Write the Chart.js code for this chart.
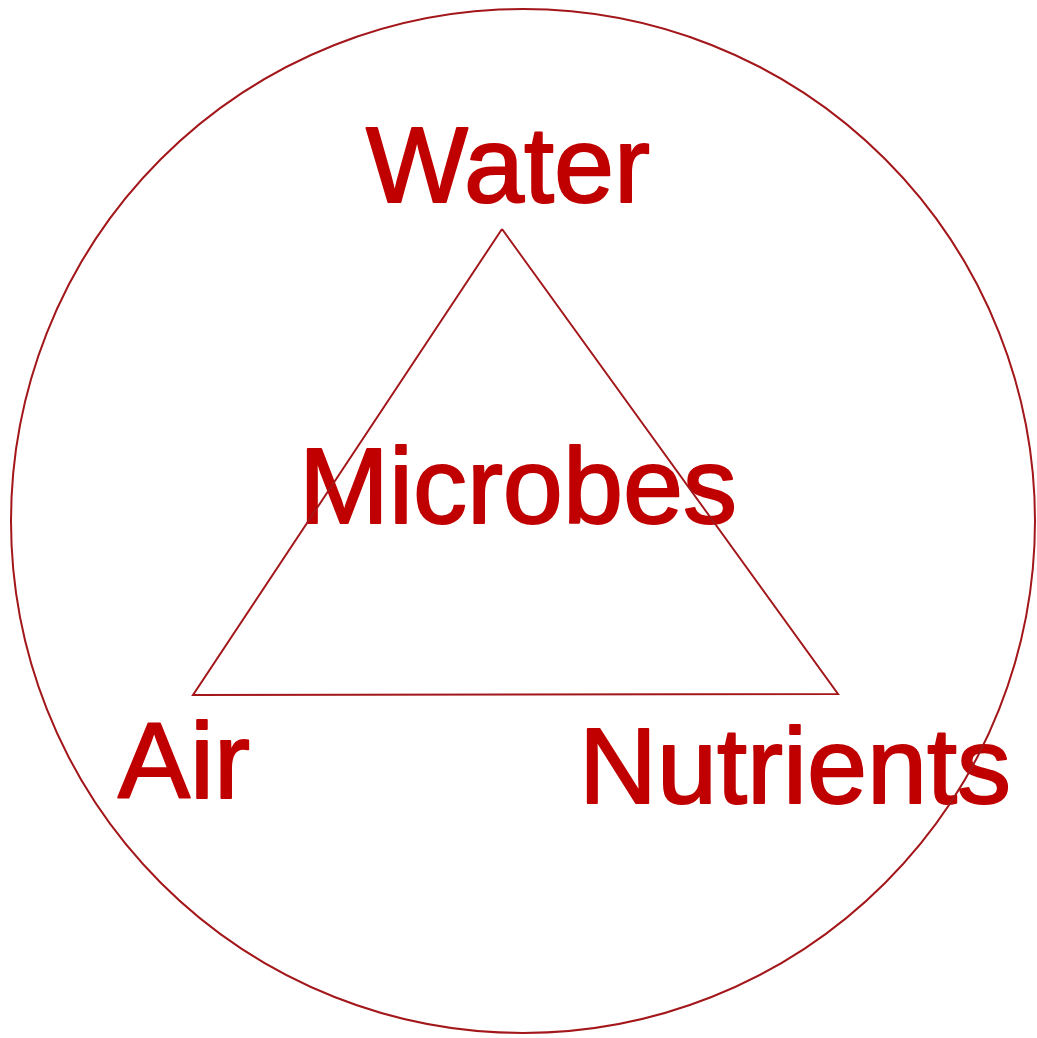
<!DOCTYPE html>
<html>
<head>
<meta charset="utf-8">
<script src="https://cdn.jsdelivr.net/npm/chart.js@4"></script>
<style>
  html, body { margin: 0; padding: 0; background: #fff; }
  #wrap { width: 1037px; height: 1038px; }
</style>
</head>
<body>
<div id="wrap"><canvas id="diagram"></canvas></div>
<script>
// diagram coordinates (0..1037 across, 0..1038 down)
const triangleX = [502, 193, 838, 502];
const triangleY = [229, 695, 694, 229];

const circleCenter = { x: 523, y: 521 };
const circleRadius = 512;

const labelNames = ['Water', 'Microbes', 'Air', 'Nutrients'];
const labelX = [508, 518, 184, 795];
const labelY = [202, 523, 798, 803];

const lineColor = '#a3161a';
const textColor = '#c00000';

// labels drawn under the lines, like the picture
const labelPlugin = {
  id: 'labels',
  beforeDatasetsDraw(chart) {
    const { ctx, scales } = chart;
    ctx.save();
    ctx.fillStyle = textColor;
    ctx.strokeStyle = textColor;
    ctx.lineWidth = 2;
    ctx.lineJoin = 'round';
    ctx.font = '108px "Liberation Sans", Arial, sans-serif';
    ctx.textAlign = 'center';
    ctx.textBaseline = 'alphabetic';
    labelNames.forEach((name, i) => {
      const px = scales.x.getPixelForValue(labelX[i]);
      const py = scales.y.getPixelForValue(labelY[i]);
      ctx.fillText(name, px, py);
      ctx.strokeText(name, px, py); // source text is a bit heavier than regular
    });
    ctx.restore();
  }
};

const diagram = new Chart(document.getElementById('diagram').getContext('2d'), {
  type: 'scatter',
  data: {
    datasets: [
      {
        label: 'triangle',
        data: triangleX.map((x, i) => ({ x: x, y: triangleY[i] })),
        showLine: true,
        borderColor: lineColor,
        borderWidth: 2,
        pointRadius: 0,
        fill: false,
        tension: 0
      },
      {
        label: 'circle',
        data: [circleCenter],
        pointStyle: 'circle',
        backgroundColor: 'rgba(0,0,0,0)',
        borderColor: lineColor,
        pointBorderWidth: 2,
        pointRadius: (c) => {
          const sx = c.chart.scales.x;
          return sx.getPixelForValue(circleRadius) - sx.getPixelForValue(0);
        }
      }
    ]
  },
  options: {
    responsive: true,
    maintainAspectRatio: false,
    animation: false,
    events: [],
    layout: { padding: 0 },
    plugins: {
      legend: { display: false },
      tooltip: { enabled: false }
    },
    scales: {
      x: { type: 'linear', min: 0, max: 1037, display: false },
      y: { type: 'linear', min: 0, max: 1038, reverse: true, display: false }
    }
  },
  plugins: [labelPlugin]
});
</script>
</body>
</html>
